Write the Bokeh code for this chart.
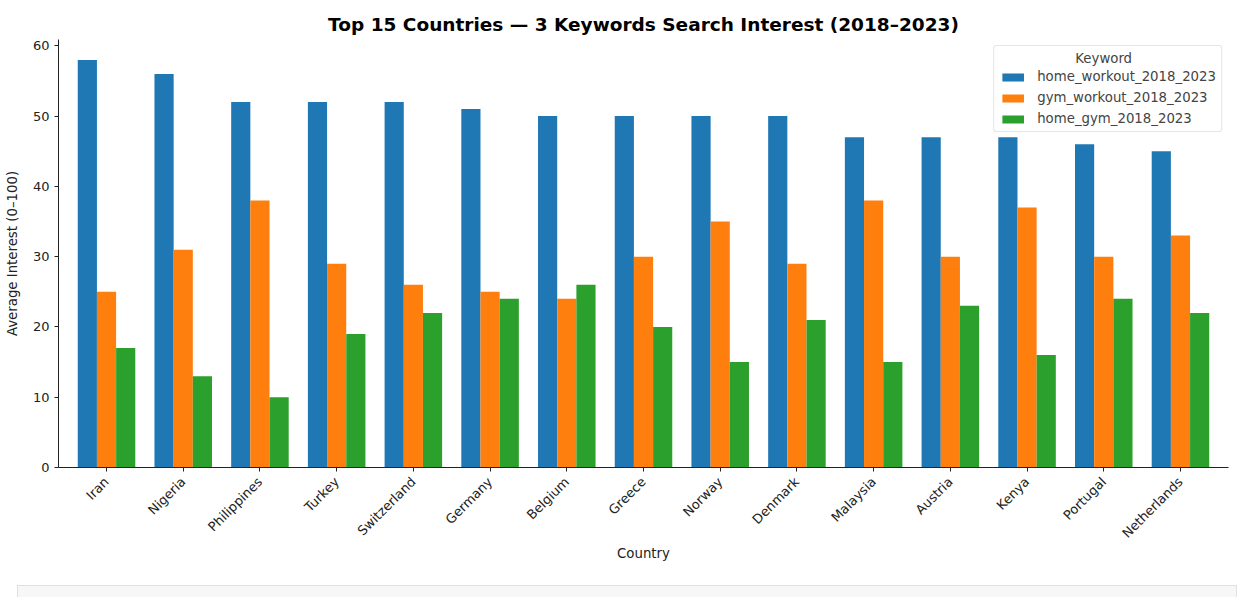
import math
from bokeh.plotting import figure
from bokeh.layouts import column
from bokeh.models import ColumnDataSource, Range1d, FixedTicker, Legend, LegendItem, Div
from bokeh.transform import dodge
from bokeh.embed import file_html
from bokeh.resources import INLINE

countries = ["Iran", "Nigeria", "Philippines", "Turkey", "Switzerland", "Germany", "Belgium",
             "Greece", "Norway", "Denmark", "Malaysia", "Austria", "Kenya", "Portugal", "Netherlands"]
home_workout = [58, 56, 52, 52, 52, 51, 50, 50, 50, 50, 47, 47, 47, 46, 45]
gym_workout = [25, 31, 38, 29, 26, 25, 24, 30, 35, 29, 38, 30, 37, 30, 33]
home_gym = [17, 13, 10, 19, 22, 24, 26, 20, 15, 21, 15, 23, 16, 24, 22]
series_names = ["home_workout_2018_2023", "gym_workout_2018_2023", "home_gym_2018_2023"]
colors = ["#1f77b4", "#ff7f0e", "#2ca02c"]
y_ticks = [0, 10, 20, 30, 40, 50, 60]

idx = list(range(len(countries)))
src = ColumnDataSource(dict(idx=idx, hw=home_workout, gw=gym_workout, hg=home_gym))

FONT = "DejaVu Sans"
p = figure(width=1245, height=580, output_backend="svg", toolbar_location=None,
           x_range=Range1d(-0.626, len(countries) - 1 + 0.626),
           y_range=Range1d(0, max(home_workout) * 1.05),
           min_border_left=58, min_border_right=17, min_border_top=39, min_border_bottom=113)

p.title.text = "Top 15 Countries \u2014 3 Keywords Search Interest (2018\u20132023)"
p.title.align = "center"
p.title.text_font = FONT
p.title.text_font_size = "18.5px"
p.title.text_font_style = "bold"
p.title.text_color = "#000000"

w = 0.25
renderers = []
for col, off, c in zip(["hw", "gw", "hg"], [-w, 0, w], colors):
    r = p.vbar(x=dodge("idx", off, range=p.x_range), top=col, width=w, bottom=0,
               source=src, fill_color=c, line_color=None)
    renderers.append(r)

p.outline_line_color = None
p.xgrid.visible = False
p.ygrid.visible = False

xa = p.xaxis[0]
xa.ticker = FixedTicker(ticks=idx)
xa.major_label_overrides = {i: n for i, n in zip(idx, countries)}
xa.major_label_orientation = math.pi / 4
xa.axis_label = "Country"
ya = p.yaxis[0]
ya.ticker = FixedTicker(ticks=y_ticks)
ya.axis_label = "Average Interest (0\u2013100)"

for ax in (xa, ya):
    ax.minor_tick_line_color = None
    ax.major_tick_out = 4
    ax.major_tick_in = 0
    ax.axis_line_color = "#222222"
    ax.major_tick_line_color = "#222222"
    ax.major_label_text_font = FONT
    ax.major_label_text_font_size = "13px"
    ax.major_label_text_color = "#222222"
    ax.axis_label_text_font = FONT
    ax.axis_label_text_font_size = "13.3px"
    ax.axis_label_text_font_style = "normal"
    ax.axis_label_text_color = "#222222"
xa.major_label_standoff = 8
xa.axis_label_standoff = -3
ya.axis_label_standoff = 10

legend = Legend(items=[LegendItem(label=n, renderers=[r]) for n, r in zip(series_names, renderers)],
                location="top_right", title="\u00a0" * 18 + "Keyword")
legend.title_text_font = FONT
legend.title_text_font_size = "13.3px"
legend.title_text_font_style = "normal"
legend.title_standoff = 3
legend.label_text_font = FONT
legend.label_text_font_size = "13.3px"
legend.glyph_width = 27
legend.glyph_height = 10
legend.label_height = 14
legend.label_standoff = 11
legend.spacing = 6
legend.margin = 6
legend.padding = 5
legend.border_line_color = "#cccccc"
legend.border_radius = 3
legend.background_fill_alpha = 0.8
p.add_layout(legend)

footer = Div(text="", width=1220, height=20,
             styles={"background-color": "#f7f7f7", "border": "1px solid #e0e0e0",
                     "margin-left": "17px"})

open("out.html", "w").write(file_html(column(p, footer), INLINE))
